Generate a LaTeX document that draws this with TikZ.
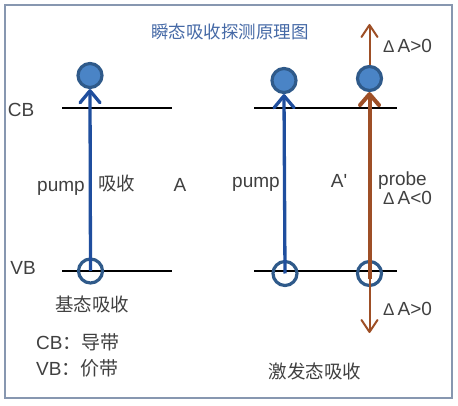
\documentclass[tikz,border=0pt]{standalone}
\usepackage{fontspec}
\setmainfont{Liberation Sans}
\newfontfamily\cjk{Noto Sans CJK SC}
\usetikzlibrary{arrows.meta}

\definecolor{pumpblue}{HTML}{1F4E9E}
\definecolor{probebrown}{HTML}{9E4F26}
\definecolor{dotfill}{HTML}{4A84C6}
\definecolor{dotline}{HTML}{2F5A8A}
\definecolor{labelgray}{HTML}{404040}
\definecolor{titleblue}{HTML}{4569A6}
\definecolor{framegray}{HTML}{8797B0}

\newcommand{\dA}[1]{{\fontsize{17}{19}\selectfont Δ}\,A#10}

\begin{document}
\begin{tikzpicture}[x=1pt, y=-1pt,
    lbl/.style={text=labelgray, font=\fontsize{19}{22}\selectfont, inner sep=0pt},
    cjklbl/.style={text=labelgray, font=\cjk\fontsize{18.5}{22}\selectfont, inner sep=0pt},
    fulldot/.style={circle, draw=dotline, fill=dotfill, line width=3.2pt, minimum size=24pt, inner sep=0pt},
    hole/.style={circle, draw=dotline, line width=3.2pt, minimum size=24pt, inner sep=0pt},
    band/.style={line width=2pt},
    pumparrow/.style={draw=pumpblue, line width=3.3pt, -{Straight Barb[round, length=12pt, width=20pt]}},
    probearrow/.style={draw=probebrown, line width=4pt, -{Straight Barb[round, length=11pt, width=19pt]}},
    probethin/.style={draw=probebrown, line width=2pt, -{Straight Barb[round, length=12pt, width=16pt]}}]
    % Frame
    \useasboundingbox (0,0) rectangle (458,406);
    \draw[framegray, line width=1.5pt] (5,5) rectangle (452,398);

    % Title
    \node[text=titleblue, font=\cjk\fontsize{17.5}{20}\selectfont, inner sep=0pt] (title) at (230,32) {瞬态吸收探测原理图};

    % Bands, left and right
    \draw[band] (62,108) -- (172,108);
    \draw[band] (62,271) -- (172,271);
    \draw[band] (254,108) -- (397,108);
    \draw[band] (254,271) -- (397,271);
    \node[lbl, anchor=base] (cb) at (21,117) {CB};
    \node[lbl, anchor=base] (vb) at (23,274) {VB};

    % Ground state absorption
    \node[fulldot] (e1) at (90,75.5) {};
    \node[hole] (g1) at (90.5,271) {};
    \draw[pumparrow] (g1.center) -- (e1.south);
    \node[lbl, anchor=base] (pump1) at (61,192) {pump};
    \node[cjklbl, anchor=base] (abs1) at (116.5,191) {吸收};
    \node[lbl, anchor=base] (a1) at (180,192) {A};
    \node[cjklbl, anchor=base] (gsa) at (92,311) {基态吸收};
    \node[cjklbl, anchor=base west] (cbnote) at (36,349) {\fontspec{Liberation Sans}\fontsize{19}{22}\selectfont CB\cjk：导带};
    \node[cjklbl, anchor=base west] (vbnote) at (36,375) {\fontspec{Liberation Sans}\fontsize{19}{22}\selectfont VB\cjk：价带};

    % Excited state absorption
    \node[fulldot] (e2) at (284,80.5) {};
    \node[hole] (g2) at (285,273.5) {};
    \draw[pumparrow] (g2.center) -- (e2.south);
    \node[fulldot] (e3) at (369.5,78.5) {};
    \node[hole] (g3) at (369.5,273.5) {};
    \draw[probearrow] ([yshift=-6pt]g3.center) -- (e3.south);
    \coordinate (ptop) at (369.5,24);
    \coordinate (pbot) at (369.5,333);
    \draw[probethin] (e3) -- (ptop);
    \draw[probethin] ([yshift=6pt]g3.center) -- (pbot);
    \node[lbl, anchor=base] (pump2) at (256,188) {pump};
    \node[lbl, anchor=base] (a2) at (339,188) {A\textquotesingle};
    \node[lbl, anchor=base west] (probe) at (378,186) {probe};
    \node[lbl, anchor=base west] (dneg) at (383,205) {\dA{<}};
    \node[lbl, anchor=base west] (dtop) at (383,53) {\dA{>}};
    \node[lbl, anchor=base west] (dbot) at (383,315) {\dA{>}};
    \node[cjklbl, anchor=base] (esa) at (315,378) {激发态吸收};
\end{tikzpicture}
\end{document}
